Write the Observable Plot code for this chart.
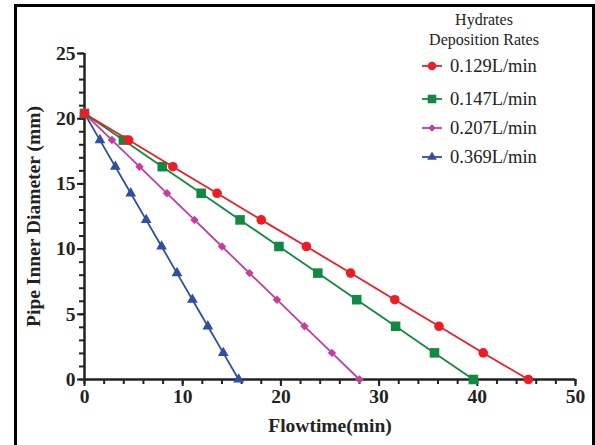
<!DOCTYPE html>
<html>
<head>
<meta charset="utf-8">
<script src="https://cdn.jsdelivr.net/npm/d3@7"></script>
<script src="https://cdn.jsdelivr.net/npm/@observablehq/plot@0.6"></script>
<style>
  body { margin: 0; background: #fff; }
  #wrap { position: relative; width: 595px; height: 445px; overflow: hidden; background: #fff; }
  #frame { position: absolute; left: 14px; top: 4px; width: 581px; height: 470px; box-sizing: border-box;
           border: 3px solid #000; border-bottom: none; }
  #chart { position: absolute; left: 0; top: 0; }
  #legend { position: absolute; left: 0; top: 0; width: 595px; font-family: "Liberation Serif", serif; color: #222; }
  #legend .title { position: absolute; left: 484px; transform: translateX(-50%); font-size: 16px; white-space: nowrap; line-height: 20px; text-align: center; }
  #legend .row { position: absolute; left: 422px; height: 22px; display: flex; align-items: center; white-space: nowrap; font-size: 18.5px; }
  #legend .row svg { margin-right: 8px; }
</style>
</head>
<body>
<div id="wrap">
  <div id="chart"></div>
  <div id="frame"></div>
  <div id="legend"></div>
</div>
<script>
// ---- data ----
const seriesNames = ["0.129L/min", "0.147L/min", "0.207L/min", "0.369L/min"];
const diameter = [20.4, 18.36, 16.32, 14.28, 12.24, 10.2, 8.16, 6.12, 4.08, 2.04, 0];
const time129 = [0, 4.5, 9.0, 13.5, 18.0, 22.6, 27.1, 31.6, 36.1, 40.6, 45.2];
const time147 = [0, 3.96, 7.92, 11.88, 15.84, 19.8, 23.76, 27.72, 31.68, 35.64, 39.6];
const time207 = [0, 2.8, 5.6, 8.4, 11.2, 14.0, 16.8, 19.6, 22.4, 25.2, 28.0];
const time369 = [0, 1.57, 3.14, 4.71, 6.28, 7.85, 9.42, 10.99, 12.56, 14.13, 15.7];
const xMajorTicks = [0, 10, 20, 30, 40, 50];
const xMinorTicks = d3.range(0, 51, 2);
const yMajorTicks = [0, 5, 10, 15, 20, 25];
const yMinorTicks = d3.range(0, 26, 1);

const colors = ["#ee1d23", "#0f8a40", "#c63c9f", "#2f4ea4"];
const symbols = ["circle", "square", "diamond2", "triangle"];
const radii = [4.8, 5.4, 3.8, 4.0];
const times = [time129, time147, time207, time369];

const data = seriesNames.flatMap((s, i) => times[i].map((t, j) => ({series: s, t, d: diameter[j]})));
// draw order: blue, magenta, green, red (red on top)
const order = [3, 2, 1, 0];

const marks = [];
for (const i of order) {
  const sub = data.filter(p => p.series === seriesNames[i]);
  marks.push(Plot.line(sub, {x: "t", y: "d", stroke: colors[i], strokeWidth: 1.8}));
  marks.push(Plot.dot(sub, {x: "t", y: "d", fill: colors[i], symbol: () => symbols[i], r: radii[i], stroke: "none"}));
}

const axisFont = {fontSize: 19.5, fontWeight: "bold", fill: "#222"};
const chart = Plot.plot({
  width: 595, height: 445,
  marginLeft: 84, marginRight: 20, marginTop: 53, marginBottom: 66,
  x: {domain: [0, 50]},
  y: {domain: [0, 25]},
  style: {fontFamily: "Liberation Serif", background: "transparent", color: "#222"},
  marks: [
    Plot.axisX({ticks: xMinorTicks, tickSize: 5, text: null, strokeWidth: 2, stroke: "#222", label: null}),
    Plot.axisX({ticks: xMajorTicks, tickSize: 7, tickPadding: 3, strokeWidth: 2, stroke: "#222", ...axisFont,
                label: "Flowtime(min)", labelAnchor: "center", labelArrow: "none", labelOffset: 52}),
    Plot.axisY({ticks: yMinorTicks, tickSize: 5, text: null, strokeWidth: 2, stroke: "#222", label: null}),
    Plot.axisY({ticks: yMajorTicks, tickSize: 7, tickPadding: 2, strokeWidth: 2, stroke: "#222", ...axisFont,
                label: "Pipe Inner Diameter (mm)", labelAnchor: "center", labelArrow: "none", labelOffset: 58}),
    Plot.ruleY([0], {stroke: "#222", strokeWidth: 2.5}),
    Plot.ruleX([0], {y1: 0, y2: 25, stroke: "#222", strokeWidth: 2.5}),
    ...marks
  ]
});
document.getElementById("chart").appendChild(chart);

// ---- legend ----
const legend = d3.select("#legend");
legend.append("div").attr("class", "title").style("top", "10px").html("Hydrates<br>Deposition Rates");
const rowTops = [55, 88, 117, 146];
const symMap = {circle: d3.symbolCircle, square: d3.symbolSquare, diamond2: d3.symbolDiamond2, triangle: d3.symbolTriangle};
seriesNames.forEach((name, i) => {
  const row = legend.append("div").attr("class", "row").style("top", rowTops[i] + "px");
  const svg = row.append("svg").attr("width", 20).attr("height", 14);
  svg.append("line").attr("x1", 0).attr("x2", 20).attr("y1", 7).attr("y2", 7).attr("stroke", colors[i]).attr("stroke-width", 1.8);
  svg.append("path").attr("transform", "translate(10,7)")
    .attr("d", d3.symbol(symMap[symbols[i]], Math.PI * radii[i] * radii[i] * 0.8)())
    .attr("fill", colors[i]);
  row.append("span").text(name);
});
</script>
</body>
</html>
